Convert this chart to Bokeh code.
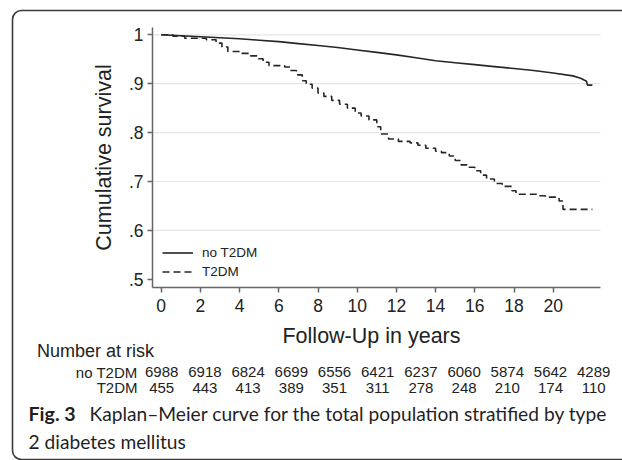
import math
from bokeh.plotting import figure
from bokeh.models import (Range1d, FixedTicker, Label, BoxAnnotation, Legend, LegendItem,
                          LinearAxis, ColumnDataSource)
from bokeh.core.properties import value
from bokeh.embed import file_html
from bokeh.resources import INLINE

# ---------------- data ----------------
group_labels = ["no T2DM", "T2DM"]

t_no = [0, 1, 2, 3, 4, 5, 6, 7, 8, 9, 10, 11, 12, 13, 14, 15, 16, 17, 18, 19, 20, 21, 21.4, 21.7, 21.75, 22.0]
s_no = [1.000, 0.998, 0.996, 0.994, 0.992, 0.989, 0.986, 0.982, 0.978, 0.974, 0.969, 0.964, 0.959, 0.953, 0.947,
        0.943, 0.939, 0.935, 0.931, 0.927, 0.922, 0.916, 0.911, 0.905, 0.897, 0.897]

t_t2 = [0, 0.6, 1.2, 2.3, 2.8, 3.1, 3.4, 4.0, 4.5, 4.9, 5.2, 5.5, 6.3, 6.6, 6.9, 7.2, 7.4, 7.7, 8.0, 8.3, 8.7,
        9.1, 9.5, 9.9, 10.2, 10.6, 11.0, 11.2, 11.6, 12.1, 12.7, 13.1, 13.5, 14.0, 14.3, 14.7, 15.0, 15.3, 15.6,
        16.0, 16.3, 16.6, 17.0, 17.4, 17.9, 18.1, 19.2, 19.6, 20.3, 20.5, 22.0]
s_t2 = [1.000, 0.997, 0.993, 0.990, 0.983, 0.975, 0.966, 0.962, 0.957, 0.951, 0.944, 0.937, 0.934, 0.927, 0.918,
        0.906, 0.899, 0.891, 0.881, 0.874, 0.866, 0.858, 0.850, 0.840, 0.834, 0.826, 0.812, 0.797, 0.787, 0.782,
        0.779, 0.774, 0.768, 0.762, 0.759, 0.752, 0.743, 0.734, 0.729, 0.722, 0.713, 0.705, 0.696, 0.690, 0.681,
        0.674, 0.671, 0.668, 0.660, 0.643, 0.643]

risk_times = [0, 2, 4, 6, 8, 10, 12, 14, 16, 18, 20]
risk_no = [6988, 6918, 6824, 6699, 6556, 6421, 6237, 6060, 5874, 5642, 4289]
risk_t2 = [455, 443, 413, 389, 351, 311, 278, 248, 210, 174, 110]

y_ticks = [0.5, 0.6, 0.7, 0.8, 0.9, 1.0]
y_tick_labels = [".5", ".6", ".7", ".8", ".9", "1"]
y_grid = [0.6, 0.7, 0.8, 0.9, 1.0]
x_ticks = [0, 2, 4, 6, 8, 10, 12, 14, 16, 18, 20]

y_title = "Cumulative survival"
x_title = "Follow-Up in years"
risk_title = "Number at risk"
caption_bold = "Fig. 3"
caption_1 = "Kaplan\u2013Meier curve for the total population stratified by type"
caption_2 = "2 diabetes mellitus"

# ---------------- layout (page pixels) ----------------
W, H = 622, 460
X0_PX, PX_PER_X = 160.7, 19.6      # where x = 0 sits and pixels per year
Y1_PX, PX_PER_Y = 34.3, 489.0      # where y = 1 sits and pixels per unit survival
PLOT_L, PLOT_R, PLOT_T, PLOT_B = 152, 600, 27, 287   # plot region
RISK_X0_PX, RISK_PX_PER_X = 161.2, 21.6              # risk-table column scale
FONT = "Liberation Sans"
CAP_FONT = "Lato"
INK = "#222222"
AXIS_C = "#666666"


def px2x(px):
    return (px - X0_PX) / PX_PER_X


def py2y(py):
    return 1 - (py - Y1_PX) / PX_PER_Y


def Y(py):
    # page pixel from top -> "py" range value (from bottom)
    return H - py


x_lo, x_hi = px2x(PLOT_L), px2x(PLOT_R)
y_lo, y_hi = py2y(PLOT_B), py2y(PLOT_T)

p = figure(width=W, height=H,
           x_range=Range1d(px2x(0), px2x(W)), y_range=Range1d(py2y(H), py2y(0)),
           x_axis_type=None, y_axis_type=None,
           output_backend="svg", toolbar_location=None, min_border=0)
p.extra_x_ranges = {"px": Range1d(0, W),
                    "risk": Range1d(-RISK_X0_PX / RISK_PX_PER_X, (W - RISK_X0_PX) / RISK_PX_PER_X)}
p.extra_y_ranges = {"py": Range1d(0, H)}
p.outline_line_color = None
p.background_fill_color = "white"
p.border_fill_color = "white"
p.grid.visible = False

# grid lines
p.segment(x0=[x_lo] * len(y_grid), y0=y_grid, x1=[x_hi] * len(y_grid), y1=y_grid,
          line_color="#e6e6e6", line_width=1.2, level="underlay")

# axes placed at the plot-region edges
yax = LinearAxis(fixed_location=x_lo, bounds=(y_lo, y_hi), ticker=FixedTicker(ticks=y_ticks))
xax = LinearAxis(fixed_location=y_lo, bounds=(x_lo, x_hi), ticker=FixedTicker(ticks=x_ticks))
for ax in (xax, yax):
    ax.axis_line_color = AXIS_C
    ax.axis_line_width = 1.5
    ax.major_tick_line_color = AXIS_C
    ax.major_tick_line_width = 1.5
    ax.major_tick_out = 5
    ax.major_tick_in = 0
    ax.minor_tick_line_color = None
    ax.major_label_text_font = FONT
    ax.major_label_text_font_size = "17.5px"
    ax.major_label_text_color = INK
yax.major_label_overrides = {v: s for v, s in zip(y_ticks, y_tick_labels)}
yax.major_label_orientation = "horizontal"
yax.major_label_standoff = 4
xax.major_label_standoff = 6
p.add_layout(yax, "left")
p.add_layout(xax, "below")

# axis titles
p.add_layout(Label(x=103, y=Y(157), x_range_name="px", y_range_name="py", text=y_title,
                   angle=math.pi / 2, text_font=FONT, text_font_size="21.5px", text_color=INK,
                   text_align="center", text_baseline="middle"))
p.add_layout(Label(x=371, y=Y(335), x_range_name="px", y_range_name="py", text=x_title,
                   text_font=FONT, text_font_size="21.5px", text_color=INK,
                   text_align="center", text_baseline="middle"))

# curves
r_no = p.line(t_no, s_no, line_color="#262626", line_width=1.6)
r_t2 = p.step(t_t2, s_t2, mode="after", line_color="#262626", line_width=1.6, line_dash="7 4")

legend = Legend(items=[LegendItem(label=group_labels[0], renderers=[r_no]),
                       LegendItem(label=group_labels[1], renderers=[r_t2])],
                location=(162, Y(280)), padding=0, margin=0, spacing=2,
                glyph_width=31, glyph_height=17, label_height=17, label_standoff=9,
                label_text_font=FONT, label_text_font_size="13.5px", label_text_color=INK,
                background_fill_alpha=0, border_line_alpha=0)
p.add_layout(legend)

# number-at-risk table
p.add_layout(Label(x=36.5, y=Y(350), x_range_name="px", y_range_name="py", text=risk_title,
                   text_font=FONT, text_font_size="18px", text_color=INK,
                   text_align="left", text_baseline="middle"))
row_y = [371.5, 387]
for label, counts, ry in zip(group_labels, [risk_no, risk_t2], row_y):
    p.add_layout(Label(x=137, y=Y(ry), x_range_name="px", y_range_name="py", text=label,
                       text_font=FONT, text_font_size="15px", text_color=INK,
                       text_align="right", text_baseline="middle"))
    src = ColumnDataSource(dict(x=risk_times, y=[Y(ry)] * len(counts), txt=[str(n) for n in counts]))
    p.text(x="x", y="y", text="txt", source=src, x_range_name="risk", y_range_name="py",
           text_font=value(FONT), text_font_size="15px", text_color=INK,
           text_align="center", text_baseline="middle")

# caption
CAP_C = "#1f1f1f"
p.add_layout(Label(x=28, y=Y(412.5), x_range_name="px", y_range_name="py", text=caption_bold,
                   text_font=CAP_FONT, text_font_style="bold", text_font_size="19.6px", text_color=CAP_C,
                   text_align="left", text_baseline="middle"))
p.add_layout(Label(x=89, y=Y(412.5), x_range_name="px", y_range_name="py", text=caption_1,
                   text_font=CAP_FONT, text_font_size="19.2px", text_color=CAP_C,
                   text_align="left", text_baseline="middle"))
p.add_layout(Label(x=28, y=Y(440.5), x_range_name="px", y_range_name="py", text=caption_2,
                   text_font=CAP_FONT, text_font_size="19.2px", text_color=CAP_C,
                   text_align="left", text_baseline="middle"))

# rounded frame of the figure panel
p.add_layout(BoxAnnotation(left=12, right=700, bottom=Y(459), top=Y(10),
                           x_range_name="px", y_range_name="py",
                           fill_alpha=0, line_color="#3a3a3a", line_alpha=1.0,
                           line_width=1.6, border_radius=9))

open("out.html", "w").write(file_html(p, INLINE))
